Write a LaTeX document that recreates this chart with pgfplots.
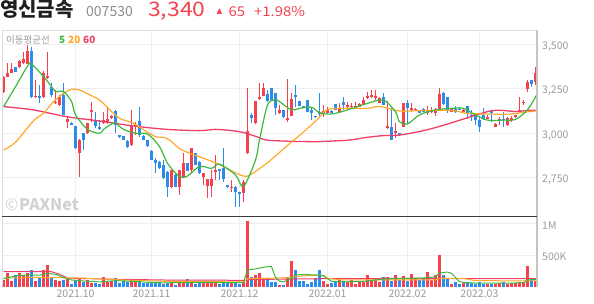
\documentclass[border=0pt]{standalone}
\usepackage{pgfplots}
\pgfplotsset{compat=1.18}
\usepackage{pgfplotstable}
\usepackage{fontspec}
\setmainfont{Noto Sans CJK KR}
\newfontfamily\dejavu{DejaVu Sans}
\definecolor{cUp}{HTML}{F5404E}
\definecolor{cDn}{HTML}{2C8CEC}
\definecolor{cM5}{HTML}{3DB83D}
\definecolor{cM20}{HTML}{FFA82E}
\definecolor{cM60}{HTML}{F03F66}
\definecolor{cGrid}{HTML}{EFEFEF}
\definecolor{cTick}{HTML}{9A9A9A}
\definecolor{cCode}{HTML}{8C8C8C}
\definecolor{cPrice}{HTML}{F2414F}
\definecolor{cBorderL}{HTML}{DDDDDD}
\definecolor{cBorderR}{HTML}{C4C4C4}
\definecolor{cDark}{HTML}{3A3A3A}
\definecolor{cWM}{HTML}{D2D2D2}

\pgfplotstableread{
i o h l c v
0 3234 3322 3228 3318 108
1 3314 3397 3314 3337 226
2 3337 3393 3337 3359 97
4 3370 3412 3365 3408 215
5 3393 3459 3389 3416 188
6 3389 3496 3389 3464 215
8 3202 3299 3200 3209 97
10 3206 3350 3200 3337 269
11 3310 3459 3305 3322 349
13 3168 3243 3164 3178 108
14 3159 3215 3153 3206 97
16 3065 3093 3028 3080 124
19 2887 2966 2756 2962 124
21 3000 3058 2998 3056 108
22 3121 3178 3065 3131 65
25 3056 3121 3054 3074 161
26 3056 3140 3054 3082 81
27 3084 3100 3080 3097 91
32 2935 3131 2930 3046 118
33 3040 3065 2990 3050 97
42 2701 2796 2691 2794 81
44 2701 2796 2653 2794 97
45 2756 2887 2754 2831 65
47 2794 2917 2784 2915 81
50 2752 2777 2709 2775 97
51 2704 2743 2634 2741 65
52 2704 2794 2644 2741 81
53 2784 2878 2737 2794 65
57 2691 2737 2672 2701 81
60 2666 2737 2616 2728 81
61 2887 3252 2885 3015 1032
63 3056 3183 3054 3181 188
64 3194 3281 3187 3206 215
65 3209 3281 3207 3256 134
69 3112 3159 3110 3131 27
71 3074 3303 3065 3088 161
72 3097 3224 3095 3191 414
80 3116 3159 3093 3127 97
81 3116 3150 3114 3131 43
84 3121 3168 3119 3140 108
86 3146 3178 3144 3157 81
87 3146 3168 3144 3153 108
88 3144 3178 3142 3153 43
89 3150 3168 3148 3163 97
90 3159 3202 3157 3187 81
91 3196 3234 3191 3209 188
92 3202 3243 3196 3215 91
93 3196 3243 3187 3209 118
94 3172 3202 3168 3196 81
96 3030 3180 3025 3040 161
98 3004 3056 2972 3015 188
100 3037 3170 3035 3168 172
102 3131 3168 3121 3140 204
103 3127 3140 3125 3134 118
106 3116 3153 3103 3125 242
107 3121 3146 3112 3131 108
108 3116 3140 3097 3125 188
109 3131 3253 3129 3221 495
112 3121 3140 3119 3134 43
115 3120 3135 3118 3131 65
121 3082 3103 3079 3094 43
123 3037 3056 3034 3052 43
124 3075 3094 3047 3082 65
126 3047 3090 3040 3084 54
127 3075 3097 3065 3084 65
128 3090 3105 3088 3103 65
129 3122 3206 3120 3131 81
130 3172 3187 3159 3178 81
131 3247 3300 3234 3290 323
133 3290 3370 3272 3340 97
}\uptab

\pgfplotstableread{
i o h l c v
3 3370 3375 3344 3346 188
7 3464 3487 3200 3202 269
9 3209 3271 3168 3200 134
12 3262 3281 3206 3215 161
15 3215 3281 3100 3103 108
17 3059 3062 3044 3046 54
18 3041 3041 2913 2915 108
20 3000 3002 2906 2962 81
23 3074 3121 3028 3041 65
24 3033 3074 3018 3022 54
28 3127 3131 3000 3046 134
29 2990 2992 2975 2977 65
30 2985 2987 2960 2962 97
31 2958 2960 2915 2921 81
34 3071 3150 2980 2990 97
35 2985 2990 2960 2965 65
36 2962 2965 2925 2930 65
37 2902 2905 2848 2850 65
38 2850 2859 2775 2831 81
39 2840 2842 2800 2803 65
40 2822 2850 2745 2747 54
41 2784 2786 2644 2701 65
43 2766 2770 2698 2701 38
46 2831 2833 2788 2790 124
48 2887 2890 2820 2822 43
49 2840 2842 2770 2775 65
54 2797 2800 2737 2790 54
55 2803 2915 2728 2741 97
56 2709 2712 2695 2697 65
58 2701 2703 2588 2672 65
59 2668 2670 2588 2660 54
62 3103 3112 3056 3084 161
66 3221 3243 3178 3183 134
67 3252 3254 3185 3187 81
68 3224 3226 3103 3140 81
70 3131 3133 3084 3089 27
73 3215 3271 3150 3206 269
74 3181 3183 3153 3155 97
75 3153 3155 3142 3144 97
76 3187 3189 3119 3121 54
77 3131 3150 3074 3116 81
78 3097 3099 3087 3089 145
79 3121 3228 3093 3108 269
82 3127 3129 3114 3116 65
83 3163 3165 3129 3131 81
85 3178 3206 3131 3157 97
95 3206 3228 3157 3159 161
97 3037 3140 2962 2965 97
99 3000 3002 2983 2988 108
101 3168 3187 3056 3140 97
104 3131 3133 3114 3116 108
105 3134 3140 3119 3121 118
110 3228 3230 3159 3165 188
111 3202 3204 3116 3131 118
113 3135 3153 3116 3122 81
114 3139 3150 3129 3131 43
116 3153 3155 3079 3112 81
117 3103 3131 3071 3090 65
118 3103 3112 3047 3075 43
119 3075 3094 3009 3034 81
120 3103 3140 3075 3079 43
122 3125 3131 3065 3112 54
125 3082 3122 3037 3075 81
132 3300 3302 3262 3275 108
}\dntab

\begin{document}
\begin{tikzpicture}[x=1pt,y=1pt]
\useasboundingbox (0,0) rectangle (594,304);

% ---------- price panel ----------
\begin{axis}[
  at={(2pt,87pt)}, anchor=south west, scale only axis,
  width=535pt, height=187pt,
  xmin=-0.4, xmax=133.4, ymin=2530, ymax=3580,
  axis line style={draw=none},
  xtick={18,37,59,81,101,119}, xticklabels={},
  ytick={2750,3000,3250,3500}, yticklabel pos=right,
  scaled y ticks=false,
  major tick length=0pt,
  grid=major, grid style={draw=cGrid, line width=0.9pt},
  yticklabel style={font=\fontsize{10.5}{12}\selectfont, text=cTick, anchor=west, inner sep=0pt, xshift=5pt, yshift=-2pt},
  /pgf/number format/.cd, 1000 sep={,}, assume math mode=true,
]
% wicks
\addplot[cUp, line width=1pt, quiver={u=0, v=\thisrow{h}-\thisrow{l}}] table[x=i, y=l] {\uptab};
\addplot[cDn, line width=1pt, quiver={u=0, v=\thisrow{h}-\thisrow{l}}] table[x=i, y=l] {\dntab};
% bodies
\addplot[cUp, line width=3pt, quiver={u=0, v=\thisrow{c}-\thisrow{o}}] table[x=i, y=o] {\uptab};
\addplot[cDn, line width=3pt, quiver={u=0, v=\thisrow{o}-\thisrow{c}}] table[x=i, y=c] {\dntab};
% moving averages
\addplot[cM60, line width=1.3pt, smooth, tension=0.5] coordinates {
(0,3150)(7.5,3131)(15.8,3093)(24,3069)(32.5,3041)(40.8,3022)(49,3015)(53,3022)(57,3015)(60,3004)(63.3,2981)(65.8,2962)(72,2955)(78.3,2953)(82.5,2957)(86.6,2962)(90.8,2977)(95,2987)(99,2990)(105,3015)(110,3045)(115,3080)(121.6,3125)(125,3128)(128,3122)(131,3128)(133.3,3130)};
\addplot[cM20, line width=1.2pt, smooth, tension=0.5] coordinates {
(0,2906)(3,2950)(7.5,3071)(10,3112)(12.5,3178)(15,3224)(17,3247)(19,3243)(21.6,3215)(24,3187)(26.6,3131)(29,3084)(32.5,3056)(35.8,3009)(38,2981)(40.8,2972)(44,2915)(46.6,2887)(49,2868)(53.3,2831)(57.5,2784)(60,2760)(61.6,2766)(65.8,2831)(70.8,2928)(74.1,2990)(78.3,3074)(80.8,3131)(84.1,3140)(90.8,3140)(94.1,3150)(99.1,3125)(105,3128)(112,3128)(116,3112)(121,3108)(126.6,3108)(130,3118)(133.3,3126)};
\addplot[cM5, line width=1.2pt, smooth, tension=0.5] coordinates {
(0,3150)(3,3262)(6,3378)(7,3389)(10,3318)(12,3262)(13,3234)(15,3234)(17,3178)(18,3103)(21,3022)(24,3000)(25,3022)(27,3052)(28,3056)(30,3022)(33,3000)(36,2996)(39,2925)(41,2831)(44,2756)(46,2760)(49,2814)(52,2803)(54,2827)(58,2766)(60,2701)(63,2850)(64,2962)(66,3159)(68,3187)(69,3178)(72,3131)(74,3140)(77,3146)(79,3116)(82,3108)(86,3131)(91,3168)(95,3187)(98,3121)(99,3065)(101,3052)(104,3103)(108,3131)(112,3140)(115,3140)(118,3103)(121,3074)(125,3074)(128,3078)(131,3131)(133.3,3215)};
\end{axis}

% ---------- volume panel ----------
\begin{axis}[
  at={(2pt,17pt)}, anchor=south west, scale only axis,
  width=535pt, height=70pt,
  xmin=-0.4, xmax=133.4, ymin=0, ymax=1100,
  axis line style={draw=none},
  xtick={18,37,59,81,101,119},
  xticklabels={2021.10,2021.11,2021.12,2022.01,2022.02,2022.03},
  ytick={500,1000}, yticklabels={500K,1M}, yticklabel pos=right,
  major tick length=0pt,
  grid=major, grid style={draw=cGrid, line width=0.9pt},
  yticklabel style={font=\fontsize{10.5}{12}\selectfont, text=cTick, anchor=west, inner sep=0pt, xshift=5pt, yshift=-2pt},
  xticklabel style={font=\fontsize{10.5}{12}\selectfont, text=cTick, anchor=base, inner sep=0pt, yshift=-10.3pt},
]
\addplot[cUp, line width=3pt, quiver={u=0, v=\thisrow{v}}] table[x=i, y expr=0] {\uptab};
\addplot[cDn, line width=3pt, quiver={u=0, v=\thisrow{v}}] table[x=i, y expr=0] {\dntab};
\addplot[cM60, line width=1pt] coordinates {
(0,240)(12,240)(14,200)(16,140)(25,125)(40,110)(60,105)(62,118)(80,130)(100,135)(120,132)(133.3,130)};
\addplot[cM20, line width=1pt] coordinates {
(0,140)(10,150)(20,140)(30,110)(40,90)(50,85)(60,80)(61,130)(70,145)(75,175)(80,185)(81,135)(85,110)(100,110)(108,112)(109,135)(115,135)(118,100)(133.3,95)};
\addplot[cM5, line width=1pt] coordinates {
(0,130)(3,175)(6,190)(9,185)(11,215)(13,200)(15,150)(17,110)(20,95)(24,80)(28,100)(32,90)(36,75)(40,65)(45,70)(50,72)(55,70)(60,70)(61,270)(63,285)(66,320)(67,322)(68,150)(69,90)(70,80)(72,140)(73,190)(75,195)(78,190)(80,175)(82,90)(85,80)(90,90)(95,125)(100,135)(105,140)(108,160)(109,220)(111,235)(112,215)(113,150)(114,85)(116,65)(120,60)(125,60)(130,65)(131,110)(133.3,120)};
\end{axis}

% ---------- frame ----------
\draw[cBorderL, line width=0.9pt] (2,17) -- (2,274) -- (537,274);
\draw[cBorderR, line width=1.2pt] (537,17) -- (537,274.4);
\draw[cDark, line width=1pt] (2,87) -- (537,87);

% ---------- texts ----------
\node[anchor=base west, inner sep=0pt, text=black!88, font=\fontsize{20}{24}\selectfont\bfseries] at (0,287.2) {영신금속};
\node[anchor=base west, inner sep=0pt, text=cCode, font=\fontsize{14}{16}\selectfont] at (86,287.3) {007530};
\node[anchor=base west, inner sep=0pt, text=cPrice, font=\fontsize{20}{24}\selectfont, xscale=1.15] at (148,287.3) {3,340};
\node[anchor=base west, inner sep=0pt, text=cPrice, font=\dejavu\fontsize{7.5}{9}\selectfont] at (216.5,290) {▲};
\node[anchor=base west, inner sep=0pt, text=cPrice, font=\fontsize{13.5}{16}\selectfont, xscale=1.1] at (228.5,287.3) {65};
\node[anchor=base west, inner sep=0pt, text=cPrice, font=\fontsize{13.5}{16}\selectfont, xscale=1.1] at (254,287.3) {+1.98\%};

\node[anchor=base west, inner sep=0pt, text=cTick, font=\fontsize{9.5}{11}\selectfont] at (6,260) {이동평균선};
\node[anchor=base west, inner sep=0pt, text=cM5, font=\fontsize{10}{11}\selectfont\bfseries] at (59,260) {5};
\node[anchor=base west, inner sep=0pt, text=cM20, font=\fontsize{10}{11}\selectfont\bfseries] at (68,260) {20};
\node[anchor=base west, inner sep=0pt, text=cM60, font=\fontsize{10}{11}\selectfont\bfseries] at (83,260) {60};

\node[anchor=base west, inner sep=0pt, text=cWM, font=\fontsize{16}{18}\selectfont] at (5,93) {©};
\node[anchor=base west, inner sep=0pt, text=cWM, font=\fontsize{16}{18}\selectfont\bfseries] at (19,93) {PAXNet};
\end{tikzpicture}
\end{document}
